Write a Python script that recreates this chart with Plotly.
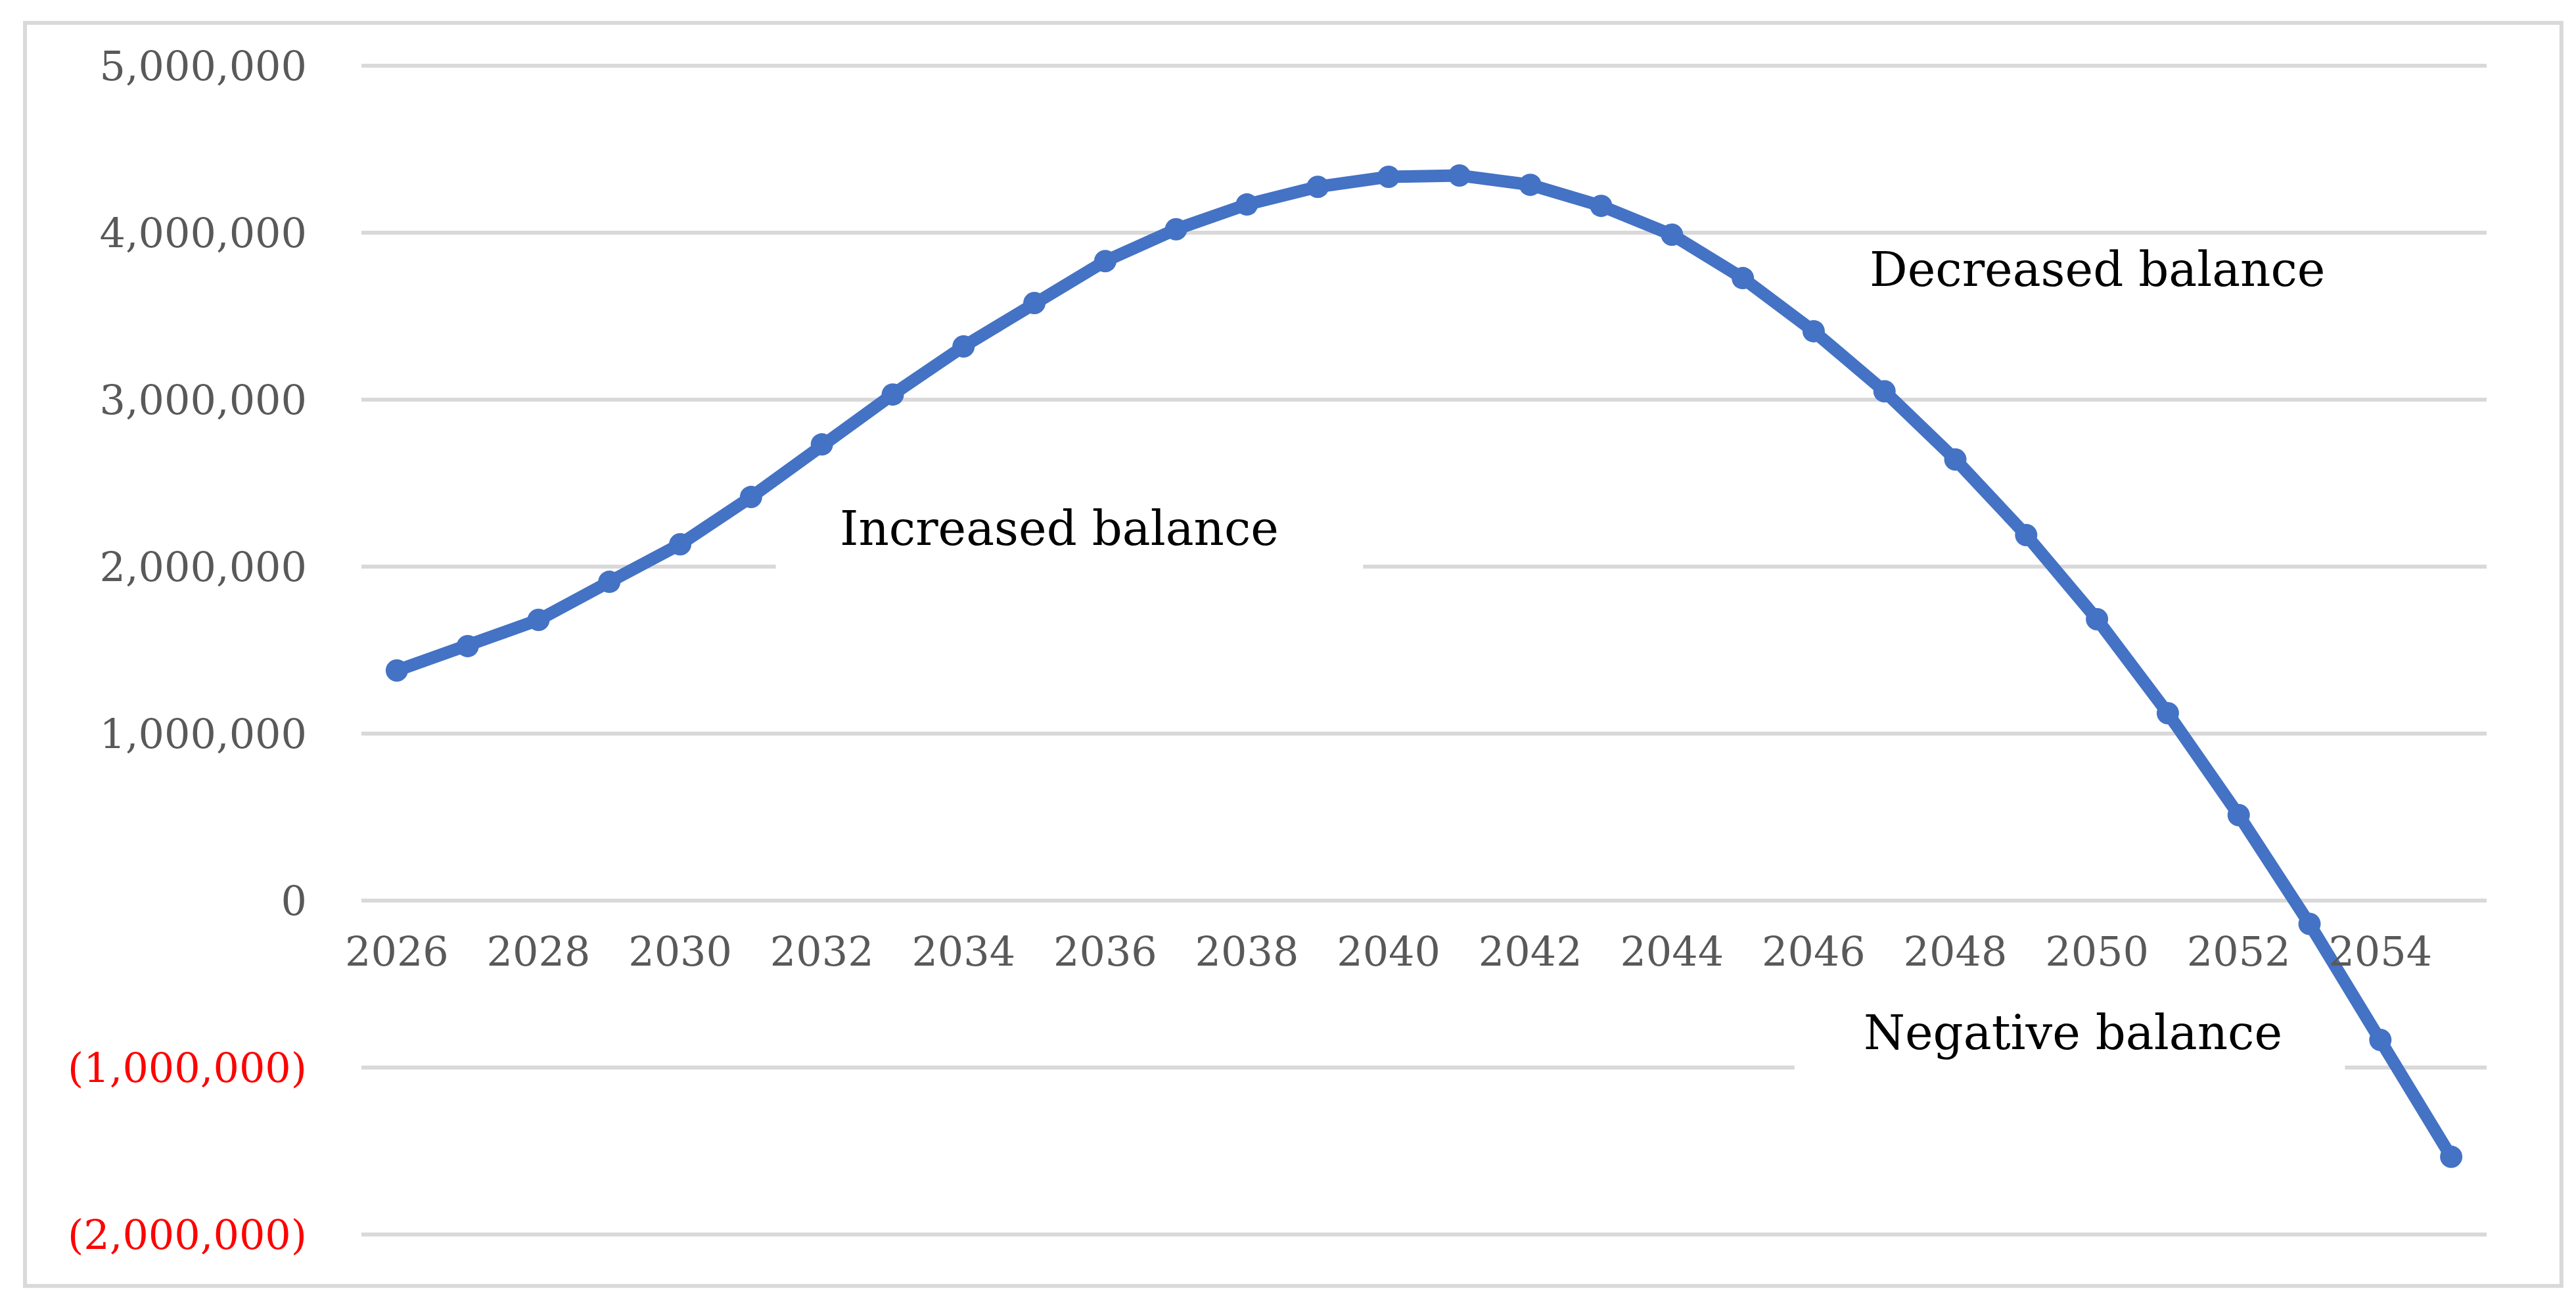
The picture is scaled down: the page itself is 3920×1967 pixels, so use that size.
import plotly.graph_objects as go

# projected balance per year
years = list(range(2026, 2056))
balance = [1378000, 1524000, 1681000, 1909000, 2134000, 2417000, 2732000, 3031000,
           3319000, 3579000, 3830000, 4021000, 4169000, 4275000, 4335000, 4343000,
           4287000, 4161000, 3988000, 3728000, 3410000, 3050000, 2642000, 2189000,
           1685000, 1122000, 512000, -140000, -835000, -1535000]

y_ticks = [-2000000, -1000000, 0, 1000000, 2000000, 3000000, 4000000, 5000000]
x_ticks = list(range(2026, 2056, 2))
labels = ["Increased balance", "Decreased balance", "Negative balance"]

BLUE = "#4472C4"
GRID = "#D9D9D9"
FONT = "DejaVu Serif"


def fmt(v):
    s = f"{abs(v):,}"
    if v < 0:
        return f"<span style='color:#FF0000'>({s})</span>"
    return s


fig = go.Figure(go.Scatter(
    x=years, y=balance,
    mode="lines+markers",
    line=dict(color=BLUE, width=19),
    marker=dict(color=BLUE, size=34),
    showlegend=False,
))

fig.update_layout(
    width=3920, height=1967,
    paper_bgcolor="white", plot_bgcolor="white",
    margin=dict(l=542, r=144, t=89, b=94),
    font=dict(family=FONT, color="#595959", size=62),
    xaxis=dict(
        range=[2025.5, 2055.5],
        tickvals=x_ticks, ticktext=[str(t) for t in x_ticks],
        showgrid=False, zeroline=False, showline=False, ticks="",
        anchor="free", position=2.012 / 7.024,
        ticklabelstandoff=36,
    ),
    yaxis=dict(
        range=[-2012000, 5012000],
        tickvals=y_ticks, ticktext=[fmt(v) for v in y_ticks],
        showgrid=True, gridcolor=GRID, gridwidth=6,
        zeroline=False, showline=False, ticks="",
        ticklabelstandoff=82,
    ),
)

# white boxes behind the labels that hide the gridlines
fig.add_shape(type="rect", layer="between", xref="x", yref="y",
              x0=2031.35, x1=2039.64, y0=1850000, y1=2500000,
              fillcolor="white", line_width=0)
fig.add_shape(type="rect", layer="between", xref="x", yref="y",
              x0=2045.73, x1=2053.5, y0=-1200000, y1=-550000,
              fillcolor="white", line_width=0)

# outer frame
fig.add_shape(type="rect", xref="paper", yref="paper",
              x0=-0.1583, x1=1.0352, y0=-0.0422, y1=1.0349,
              line=dict(color=GRID, width=6), fillcolor="rgba(0,0,0,0)")

for text, x, y in zip(labels, [2035.35, 2050.0, 2049.66], [2230000, 3780000, -790000]):
    fig.add_annotation(x=x, y=y, text=text, showarrow=False,
                       xanchor="center", yanchor="middle",
                       font=dict(family=FONT, size=72, color="black"))

fig.write_html("out.html")
